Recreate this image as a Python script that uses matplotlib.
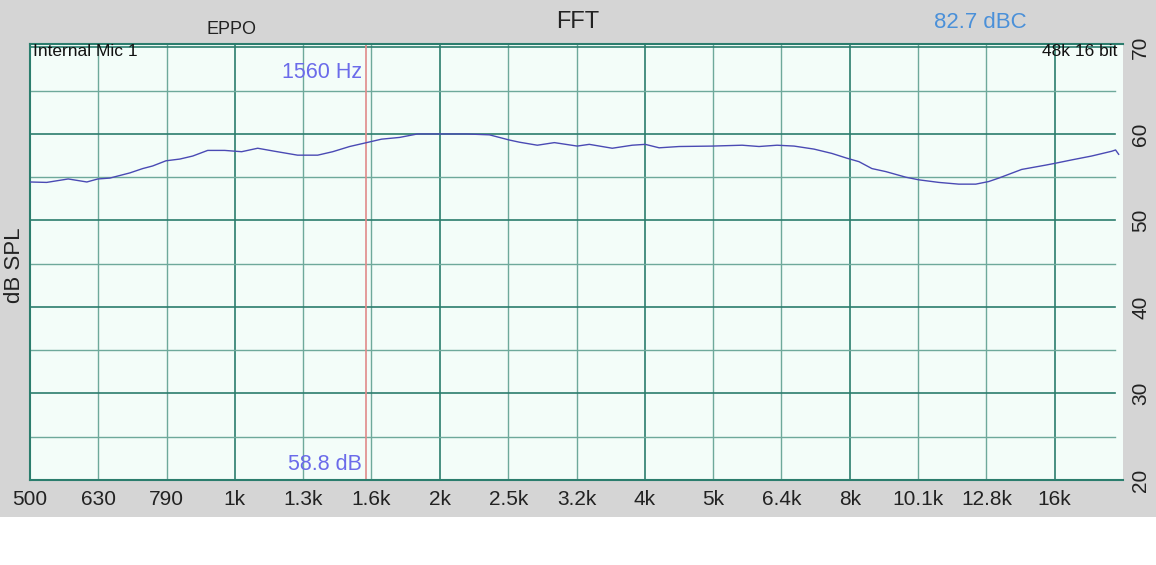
import matplotlib
matplotlib.use("Agg")
import matplotlib.pyplot as plt
from matplotlib.patches import Rectangle
from matplotlib.ticker import NullLocator

plt.rcParams['font.family'] = ['Liberation Sans', 'DejaVu Sans']

# ---- data ----
freq_hz = [500, 529, 569, 606, 629, 655, 701, 732, 757, 792, 830, 867, 912, 966,
           1003, 1023, 1080, 1144, 1236, 1323, 1392, 1474, 1561, 1642, 1745, 1854,
           1951, 2188, 2365, 2530, 2617, 2781, 2946, 3183, 3315, 3583, 3833, 4006,
           4199, 4493, 5023, 5559, 5887, 6256, 6627, 7090, 7532, 7923, 8253, 8623,
           9038, 9673, 10106, 10813, 11568, 12252, 12800, 13244, 14310, 15521,
           16000, 16946, 18130, 19400, 19660, 19866]
level_db = [54.45, 54.4, 54.8, 54.45, 54.8, 54.9, 55.5, 56.0, 56.3, 56.9, 57.1, 57.45,
            58.1, 58.1, 58.0, 57.95, 58.35, 58.0, 57.55, 57.55, 57.95, 58.55, 59.0,
            59.4, 59.6, 60.0, 60.0, 60.0, 59.9, 59.3, 59.05, 58.7, 59.0, 58.6, 58.8,
            58.35, 58.7, 58.8, 58.4, 58.55, 58.6, 58.7, 58.55, 58.7, 58.6, 58.25,
            57.75, 57.2, 56.8, 56.0, 55.65, 55.0, 54.7, 54.4, 54.2, 54.2, 54.5, 54.9,
            55.9, 56.4, 56.6, 57.0, 57.45, 58.0, 58.15, 57.65]

tick_freqs = [500, 630, 794, 1000, 1260, 1587, 2000, 2520, 3175, 4000, 5040, 6350,
              8000, 10080, 12700, 16000]
tick_labels = ["500", "630", "790", "1k", "1.3k", "1.6k", "2k", "2.5k", "3.2k", "4k",
               "5k", "6.4k", "8k", "10.1k", "12.8k", "16k"]
octave_freqs = [1000, 2000, 4000, 8000, 16000]
db_ticks = [20, 30, 40, 50, 60, 70]
db_minor = [25, 35, 45, 55, 65]
cursor_hz = 1560
cursor_label = "1560 Hz"
cursor_level = "58.8 dB"

x_min, x_max = 500, 20160
y_min, y_max = 20, 70.4

# ---- figure ----
W, H = 1156, 565
fig = plt.figure(figsize=(W / 100, H / 100), dpi=100, facecolor="white")
bg = Rectangle((0, (H - 517) / H), 1, 517 / H, transform=fig.transFigure,
               facecolor="#d5d5d5", edgecolor="none", zorder=-10)
fig.add_artist(bg)

ax = fig.add_axes([30 / W, (H - 480) / H, 1093 / W, 436 / H])
ax.set_zorder(1)
ax.set_facecolor("#f3fdf9")
ax.set_xscale("log")
ax.set_xlim(x_min, x_max)
ax.set_ylim(y_min, y_max)

dark = "#2b7d6d"
light = "#6ea99b"
for f in tick_freqs[1:]:
    if f in octave_freqs:
        ax.axvline(f, color=dark, lw=1.2, zorder=1)
    else:
        ax.axvline(f, color=light, lw=1.0, zorder=1)
for d in db_ticks[1:]:
    ax.axhline(d, color=dark, lw=1.2, zorder=1, xmax=0.993)
for d in db_minor:
    ax.axhline(d, color=light, lw=1.0, zorder=1, xmax=0.993)

for side in ["left", "bottom", "top"]:
    ax.spines[side].set_color(dark)
    ax.spines[side].set_linewidth(1.5)
ax.spines["right"].set_visible(False)

ax.axvline(cursor_hz, color="#e08a8a", lw=1.2, zorder=2)
ax.plot(freq_hz, level_db, color="#4a4ab4", lw=1.0, zorder=3)

ax.xaxis.set_minor_locator(NullLocator())
ax.set_xticks(tick_freqs)
ax.set_xticklabels(tick_labels, fontsize=15, color="#222222")
ax.tick_params(axis="x", length=0, pad=7)

ax.yaxis.tick_right()
ax.set_yticks(db_ticks)
ax.set_yticklabels([str(d) for d in db_ticks], rotation=90, fontsize=15,
                   color="#222222", va="center")
ax.yaxis.set_minor_locator(NullLocator())
ax.tick_params(axis="y", length=0, pad=6)

# texts
fig.text(15 / W, (H - 265) / H, "dB SPL", rotation=90, fontsize=16, color="#222222",
         ha="center", va="center")
fig.text(232 / W, (H - 29) / H, "EPPO", fontsize=13, color="#222222", ha="center", va="center")
fig.text(578 / W, (H - 22) / H, "FFT", fontsize=17, color="#222222", ha="center", va="center")
fig.text(980 / W, (H - 22) / H, "82.7 dBC", fontsize=16, color="#4a90d9", ha="center", va="center")
fig.text(33 / W, (H - 52) / H, "Internal Mic 1", fontsize=12.5, color="#111111",
         ha="left", va="center", zorder=5)
fig.text(1117 / W, (H - 52) / H, "48k 16 bit", fontsize=12.5, color="#111111",
         ha="right", va="center", zorder=5)
fig.text(362 / W, (H - 73) / H, cursor_label, fontsize=15.5, color="#6b6bea",
         ha="right", va="center", zorder=5)
fig.text(362 / W, (H - 465) / H, cursor_level, fontsize=15.5, color="#6b6bea",
         ha="right", va="center", zorder=5)

fig.savefig("out.png", dpi=100, facecolor="white")
